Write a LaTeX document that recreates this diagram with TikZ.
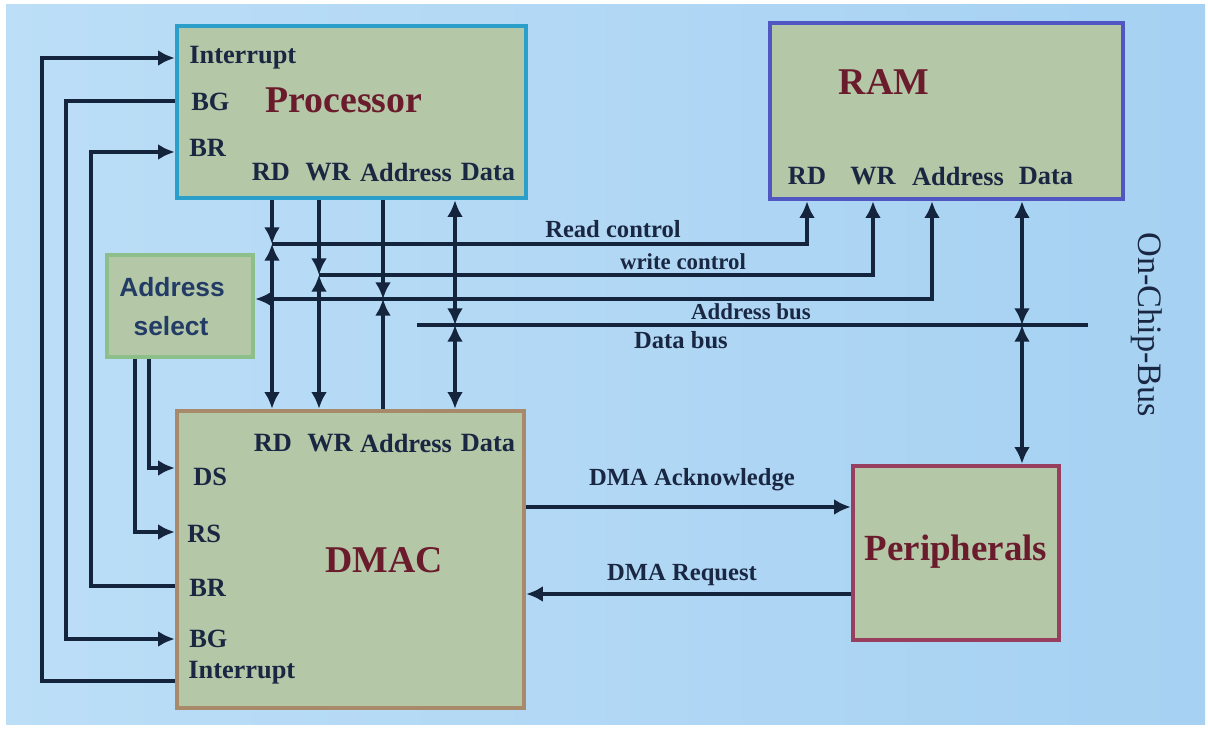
\documentclass[tikz,border=0pt]{standalone}
\usepackage{fontspec}
\setmainfont{Liberation Serif}
\newfontfamily\selfont{Liberation Sans}
\usetikzlibrary{arrows.meta}

\definecolor{bgL}{HTML}{BCDEF7}
\definecolor{bgM}{HTML}{CBEAFB}
\definecolor{bgR}{HTML}{A6D1F2}
\definecolor{boxfill}{HTML}{B4C7A7}
\definecolor{procC}{HTML}{2A9FC9}
\definecolor{ramC}{HTML}{5057C2}
\definecolor{selC}{HTML}{8DBF8A}
\definecolor{dmacC}{HTML}{A88A6A}
\definecolor{periC}{HTML}{983E5E}
\definecolor{wireC}{HTML}{14243D}
\definecolor{txtC}{HTML}{1A2742}
\definecolor{titleC}{HTML}{6A1C2C}
\definecolor{selT}{HTML}{223C66}

\begin{document}
\begin{tikzpicture}[x=0.02cm,y=-0.02cm,
  blk/.style={rectangle, fill=boxfill, line width=2.6pt, inner sep=0pt},
  lbl/.style={text=txtC, font=\fontsize{15}{18}\selectfont\bfseries, inner sep=0pt},
  title/.style={text=titleC, font=\fontsize{21.5}{26}\selectfont\bfseries, inner sep=0pt},
  buslbl/.style={text=txtC, font=\fontsize{14}{16}\selectfont\bfseries, inner sep=0pt},
  smallbus/.style={text=txtC, font=\fontsize{13}{15}\selectfont\bfseries, inner sep=0pt},
  wire/.style={draw=wireC, line width=1.8pt},
  conn/.style={wire, -{Latex[length=9.5pt,width=9pt]}},
  dbl/.style={wire, {Latex[length=9.5pt,width=9pt]}-{Latex[length=9.5pt,width=9pt]}}]

\useasboundingbox (0,0) rectangle (1208,743);
\fill[white] (0,0) rectangle (1208,743);
\shade[left color=bgL, middle color=bgM, right color=bgR] (6,5) rectangle (1205,724);

% ---- blocks ----
\node[blk, draw=procC, minimum width=6.98cm, minimum height=3.44cm] (proc) at (351.5,112) {};
\node[blk, draw=ramC, minimum width=7.06cm, minimum height=3.52cm] (ram) at (946.5,111) {};
\node[blk, draw=selC, minimum width=2.92cm, minimum height=2.04cm] (asel) at (180,306) {};
\node[blk, draw=dmacC, minimum width=6.94cm, minimum height=5.94cm] (dmac) at (350.5,559.5) {};
\node[blk, draw=periC, minimum width=4.12cm, minimum height=3.48cm] (peri) at (956,553) {};

% ---- processor texts ----
\node[lbl, anchor=west] (pInt) at (189,58) {Interrupt};
\node[lbl, anchor=west] (pBG) at (191,102) {BG};
\node[lbl, anchor=west] (pBR) at (189,148) {BR};
\node[title] (pTitle) at (344,100) {Processor};
\node[lbl] (pRD) at (271,172) {RD};
\node[lbl] (pWR) at (328,172) {WR};
\node[lbl] (pAd) at (406,172) {Address};
\node[lbl] (pDa) at (488,172) {Data};

% ---- RAM texts ----
\node[title] (rTitle) at (884,82) {RAM};
\node[lbl] (rRD) at (807,176) {RD};
\node[lbl] (rWR) at (873,176) {WR};
\node[lbl] (rAd) at (958,176) {Address};
\node[lbl] (rDa) at (1046,176) {Data};

% ---- address select ----
\node[text=selT, font=\fontsize{15}{18}\selfont\bfseries, inner sep=0pt] (sA) at (172,287) {Address};
\node[text=selT, font=\fontsize{15}{18}\selfont\bfseries, inner sep=0pt] (sS) at (171,326) {select};

% ---- DMAC texts ----
\node[lbl] (dRD) at (273,443) {RD};
\node[lbl] (dWR) at (330,443) {WR};
\node[lbl] (dAd) at (406,443) {Address};
\node[lbl] (dDa) at (488,443) {Data};
\node[lbl, anchor=west] (dDS) at (193,477) {DS};
\node[lbl, anchor=west] (dRS) at (187,534) {RS};
\node[lbl, anchor=west] (dBR) at (189,588) {BR};
\node[lbl, anchor=west] (dBG) at (189,639) {BG};
\node[lbl, anchor=west] (dInt) at (188,673) {Interrupt};
\node[title] (dTitle) at (384,560) {DMAC};

% ---- peripherals ----
\node[title, font=\fontsize{21}{26}\selectfont\bfseries] (pTxt) at (956,552) {Peripherals};

% ---- coordinates of bus lines ----
\coordinate (xrd) at (272,0);
\coordinate (xwr) at (319,0);
\coordinate (xad) at (383,0);
\coordinate (xda) at (455,0);
\coordinate (jrc) at (272,244);
\coordinate (jwc) at (319,275);
\coordinate (jab) at (383,299);
\coordinate (jdb) at (455,325);
\coordinate (xrrd) at (807,0);
\coordinate (xrwr) at (873,0);
\coordinate (xrad) at (932,0);
\coordinate (xrda) at (1022,0);
\coordinate (jrdb) at (1022,325);
\coordinate (dbL) at (417,325);
\coordinate (dbR) at (1088,325);

% ---- processor <-> buses ----
\draw[conn] (proc.south -| xrd) -- (jrc);
\draw[dbl] (jrc) -- (dmac.north -| xrd);
\draw[conn] (proc.south -| xwr) -- (jwc);
\draw[dbl] (jwc) -- (dmac.north -| xwr);
\draw[conn] (proc.south -| xad) -- (jab);
\draw[conn] (dmac.north -| xad) -- (jab);
\draw[dbl] (proc.south -| xda) -- (jdb);
\draw[dbl] (jdb) -- (dmac.north -| xda);

% ---- buses to RAM ----
\draw[conn] (jrc) -| (ram.south -| xrrd);
\draw[conn] (jwc) -| (ram.south -| xrwr);
\draw[dbl] (asel.east |- jab) -| (ram.south -| xrad);
\draw[wire] (dbL) -- (dbR);
\draw[dbl] (ram.south -| xrda) -- (jrdb);
\draw[dbl] (jrdb) -- (peri.north -| xrda);

\node[buslbl] (lRC) at (613,229) {Read control};
\node[smallbus] (lWC) at (683,262) {write control};
\node[smallbus] (lAB) at (751,312) {Address bus};
\node[buslbl] (lDB) at (681,340) {Data bus};

% ---- control loops on the left ----
\coordinate (cI1) at (42,681);
\coordinate (cI2) at (42,58);
\draw[conn] (dmac.west |- cI1) -- (cI1) -- (cI2) -- (proc.west |- cI2);
\coordinate (cG1) at (66,101);
\coordinate (cG2) at (66,639);
\draw[conn] (proc.west |- cG1) -- (cG1) -- (cG2) -- (dmac.west |- cG2);
\coordinate (cR1) at (91,586);
\coordinate (cR2) at (91,152);
\draw[conn] (dmac.west |- cR1) -- (cR1) -- (cR2) -- (proc.west |- cR2);
\coordinate (xds) at (149,468);
\coordinate (xrs) at (135,532);
\draw[conn] (asel.south -| xds) |- (dmac.west |- xds);
\draw[conn] (asel.south -| xrs) |- (dmac.west |- xrs);

% ---- DMA handshake ----
\coordinate (yack) at (0,507);
\coordinate (yreq) at (0,594);
\draw[conn] (dmac.east |- yack) -- (peri.west |- yack);
\draw[conn] (peri.west |- yreq) -- (dmac.east |- yreq);
\node[buslbl] (lAck) at (692,480) {DMA Acknowledge};
\node[buslbl] (lReq) at (682,575) {DMA Request};

% ---- bus caption ----
\node[rotate=-90, text=txtC, font=\fontsize{19.5}{22}\selectfont, inner sep=0pt] (ocb) at (1147,325) {On-Chip-Bus};

\end{tikzpicture}
\end{document}
